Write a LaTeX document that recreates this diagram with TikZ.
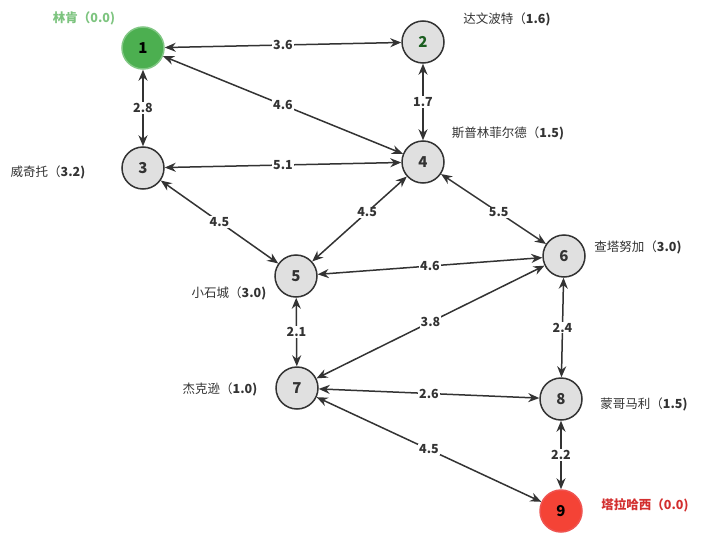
\documentclass[tikz,border=0pt]{standalone}
\usepackage{fontspec}
\setmainfont{Noto Sans CJK SC}
\usetikzlibrary{arrows.meta}
\definecolor{ink}{HTML}{333333}
\definecolor{nodegray}{HTML}{E0E0E0}
\definecolor{gfill}{HTML}{4CAF50}
\definecolor{gborder}{HTML}{81C784}
\definecolor{rfill}{HTML}{F44336}
\definecolor{rborder}{HTML}{EF5350}
\definecolor{glabel}{HTML}{7DC47F}
\definecolor{rlabel}{HTML}{D32F2F}
\definecolor{dgreen}{HTML}{1B5E20}
\tikzset{
  city/.style={circle, draw=ink, line width=1.5pt, fill=nodegray, minimum size=42pt, inner sep=0pt,
    font=\fontsize{15}{15}\selectfont\bfseries, text=ink},
  startcity/.style={city, draw=gborder, fill=gfill, text=black},
  goalcity/.style={city, draw=rborder, fill=rfill, text=black},
  tag/.style={font=\fontsize{12.5}{13}\selectfont, text=ink, inner sep=0pt},
  road/.style={draw=ink, line width=1.5pt, {Stealth[length=11pt,width=9pt]}-{Stealth[length=11pt,width=9pt]}},
  dist/.style={fill=white, inner sep=1pt, font=\fontsize{12.5}{13}\selectfont\bfseries, text=ink}
}
\begin{document}
\begin{tikzpicture}[x=1pt,y=-1pt]
\useasboundingbox[fill=white] (0,0) rectangle (720,546);
% nodes
\node[startcity] (n1) at (143,48) {1};
\node[city, text=dgreen] (n2) at (423,42) {2};
\node[city] (n3) at (143,168) {3};
\node[city] (n4) at (423,162) {4};
\node[city] (n5) at (296,276) {5};
\node[city] (n6) at (564,256) {6};
\node[city] (n7) at (297,388) {7};
\node[city] (n8) at (561,399) {8};
\node[goalcity] (n9) at (561,511) {9};
% city labels
\node[tag, text=glabel, font=\fontsize{12.5}{13}\selectfont\bfseries] (l1) at (84,18) {林肯（0.0)};
\node[tag] (l2) at (507,19) {达文波特（\textbf{1.6)}};
\node[tag] (l3) at (48,172) {威奇托（\textbf{3.2)}};
\node[tag] (l4) at (508,133) {斯普林菲尔德（\textbf{1.5)}};
\node[tag] (l5) at (229,293) {小石城（\textbf{3.0)}};
\node[tag] (l6) at (638,247) {查塔努加（\textbf{3.0)}};
\node[tag] (l7) at (220,389) {杰克逊（\textbf{1.0)}};
\node[tag] (l8) at (644,404) {蒙哥马利（\textbf{1.5)}};
\node[tag, text=rlabel, font=\fontsize{12.5}{13}\selectfont\bfseries] (l9) at (645,505) {塔拉哈西（0.0)};
% roads
\draw[road] (n1) -- node[dist] {3.6} (n2);
\draw[road] (n1) -- node[dist] {2.8} (n3);
\draw[road] (n1) -- node[dist] {4.6} (n4);
\draw[road] (n2) -- node[dist] {1.7} (n4);
\draw[road] (n3) -- node[dist] {5.1} (n4);
\draw[road] (n3) -- node[dist, pos=0.5] {4.5} (n5);
\draw[road] (n4) -- node[dist, pos=0.42] {4.5} (n5);
\draw[road] (n4) -- node[dist, pos=0.55] {5.5} (n6);
\draw[road] (n5) -- node[dist] {4.6} (n6);
\draw[road] (n5) -- node[dist] {2.1} (n7);
\draw[road] (n6) -- node[dist] {3.8} (n7);
\draw[road] (n6) -- node[dist] {2.4} (n8);
\draw[road] (n7) -- node[dist] {2.6} (n8);
\draw[road] (n7) -- node[dist] {4.5} (n9);
\draw[road] (n8) -- node[dist] {2.2} (n9);
\end{tikzpicture}
\end{document}
